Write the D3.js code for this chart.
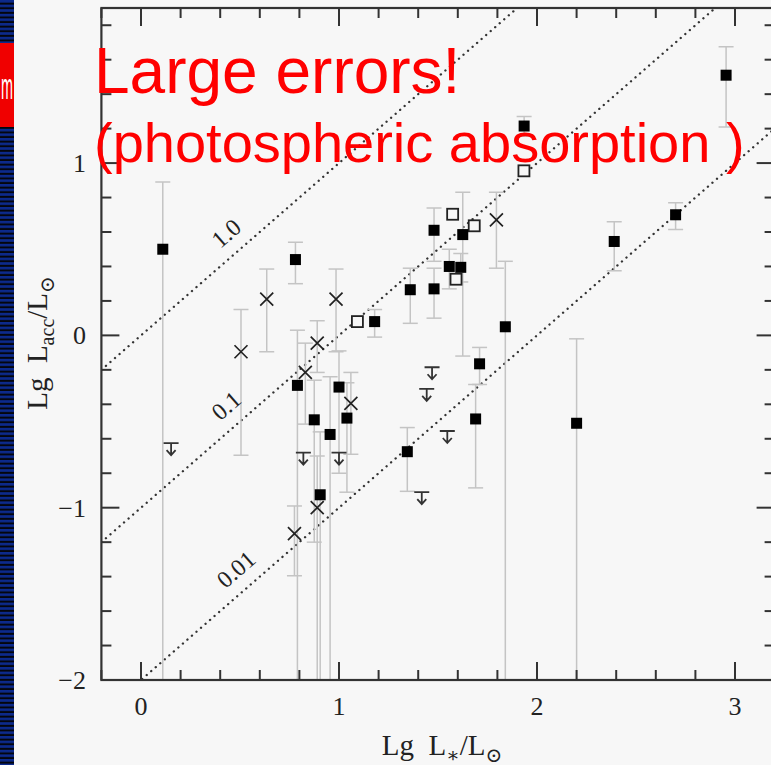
<!DOCTYPE html>
<html>
<head>
<meta charset="utf-8">
<script src="https://cdn.jsdelivr.net/npm/d3@7"></script>
<style>
  body { margin:0; background:#f7f7f7; }
  svg { display:block; }
  .tick-label { font-family:"Liberation Serif","DejaVu Serif",serif; font-size:26px; fill:#222; }
  .axis-title { font-family:"Liberation Serif","DejaVu Serif",serif; font-size:29px; fill:#222; }
  .ratio-label { font-family:"Liberation Serif","DejaVu Serif",serif; font-size:24px; fill:#222; }
  .note { font-family:"Liberation Sans",Arial,sans-serif; fill:#ff0000; }
</style>
</head>
<body>
<svg id="chart"></svg>
<script>
// filled squares: detections with error bars (-2.5 = bar runs off the bottom)
var filledX  = [0.11, 0.78, 1.18, 0.79, 1.00, 0.875, 0.955, 1.04, 0.905, 1.48, 1.625, 1.557, 1.615, 1.36, 1.48, 1.84, 1.71, 1.69, 1.345, 2.20, 2.39, 2.70, 2.955, 1.935];
var filledY  = [0.50, 0.44, 0.08, -0.29, -0.30, -0.49, -0.575, -0.48, -0.925, 0.61, 0.585, 0.40, 0.395, 0.265, 0.27, 0.05, -0.165, -0.485, -0.675, -0.51, 0.545, 0.70, 1.51, 1.215];
var filledHi = [0.89, 0.54, 0.15, 0.03, -0.09, -0.26, -0.24, -0.275, -0.56, 0.74, 0.83, 0.50, 0.475, 0.39, 0.39, 0.43, -0.07, -0.285, -0.535, -0.02, 0.66, 0.77, 1.675, 1.27];
var filledLo = [-2.5, 0.30, -0.01, -2.5, -0.80, -1.20, -2.5, -0.91, -2.5, 0.43, -0.12, 0.27, 0.31, 0.07, 0.10, -2.5, -0.285, -0.885, -0.905, -2.5, 0.375, 0.615, 1.21, 1.155];

// open squares
var openX = [1.093, 1.574, 1.683, 1.591, 1.934];
var openY = [0.08, 0.703, 0.636, 0.326, 0.955];

// crosses with error bars
var crossX  = [0.635, 0.985, 0.505, 0.89, 0.83, 1.06, 0.89, 0.775, 1.795];
var crossY  = [0.21, 0.21, -0.095, -0.045, -0.215, -0.395, -1.0, -1.15, 0.67];
var crossHi = [0.385, 0.385, 0.15, 0.085, -0.045, -0.215, -0.70, -0.99, 0.83];
var crossLo = [-0.095, -0.095, -0.695, -0.215, -0.515, -0.69, -2.5, -1.395, 0.39];

// upper limits
var limitX = [0.152, 0.82, 1.0, 1.47, 1.443, 1.547, 1.418];
var limitY = [-0.625, -0.68, -0.68, -0.185, -0.31, -0.555, -0.91];

// Lacc/L* ratio lines
var ratios = [1.0, 0.1, 0.01];
var ratioLabels = ["1.0", "0.1", "0.01"];
var ratioLabelAt = [0.5, 0.5, 0.55];

var xTicks = [0, 1, 2, 3];
var yTicks = [-2, -1, 0, 1];

var screen = {width:771, height:765};

var svg = d3.select("#chart")
    .attr("width", screen.width)
    .attr("height", screen.height);

var xScale = d3.scaleLinear().domain([-0.2, 3.2]).range([101.4, 774.6]);
var yScale = d3.scaleLinear().domain([-2, 1.9]).range([680, 8]);

var plot = {
    left:xScale(-0.2), right:xScale(3.2),
    top:yScale(1.9), bottom:yScale(-2)
};

svg.append("rect")
    .attr("width", screen.width).attr("height", screen.height)
    .attr("fill", "#f7f7f7");

// slide stripe on the left
var defs = svg.append("defs");
var pat = defs.append("pattern")
    .attr("id", "stripes").attr("patternUnits", "userSpaceOnUse")
    .attr("width", 14).attr("height", 4.6);
pat.append("rect").attr("width", 14).attr("height", 4.6).attr("fill", "#04060e");
pat.append("rect").attr("width", 14).attr("height", 2.6).attr("fill", "#0c2a8c");

defs.append("clipPath").attr("id", "plotclip")
    .append("rect")
    .attr("x", plot.left).attr("y", plot.top)
    .attr("width", plot.right - plot.left).attr("height", plot.bottom - plot.top);

svg.append("rect")
    .attr("x", 0).attr("y", 0).attr("width", 14).attr("height", screen.height)
    .attr("fill", "url(#stripes)");

svg.append("rect")
    .attr("x", 0).attr("y", 43).attr("width", 14).attr("height", 84)
    .attr("fill", "#f00000");

svg.append("text")
    .attr("x", 1).attr("y", 99)
    .attr("font-family", "Liberation Sans, Arial, sans-serif")
    .attr("font-size", 36)
    .attr("textLength", 12)
    .attr("lengthAdjust", "spacingAndGlyphs")
    .attr("fill", "#fff")
    .text("m");

var inner = svg.append("g").attr("clip-path", "url(#plotclip)");

// dotted ratio lines
ratios.forEach(function(r, i) {
    var off = Math.log10(r);
    var xs = [-0.2, 3.2];
    inner.append("line")
        .attr("x1", xScale(xs[0])).attr("y1", yScale(xs[0] + off))
        .attr("x2", xScale(xs[1])).attr("y2", yScale(xs[1] + off))
        .attr("stroke", "#333")
        .attr("stroke-width", 2.3)
        .attr("stroke-linecap", "round")
        .attr("stroke-dasharray", "0.1,5.9");

    var a = ratioLabelAt[i];
    var p1 = [xScale(a), yScale(a + off)];
    var p2 = [xScale(a + 1), yScale(a + 1 + off)];
    var ang = Math.atan2(p2[1] - p1[1], p2[0] - p1[0]);
    var cx = p1[0] + Math.sin(ang) * 21;
    var cy = p1[1] - Math.cos(ang) * 21;
    svg.append("text")
        .attr("class", "ratio-label")
        .attr("text-anchor", "middle")
        .attr("dominant-baseline", "central")
        .attr("transform", "translate(" + cx + "," + cy + ") rotate(" + (ang * 180 / Math.PI) + ")")
        .text(ratioLabels[i]);
});

// error bars
var drawErrors = function(xs, ys, his, los) {
    xs.forEach(function(x, i) {
        var g = inner.append("g")
            .attr("stroke", "#c4c4c4")
            .attr("stroke-width", 1.5);
        g.append("line")
            .attr("x1", xScale(x)).attr("x2", xScale(x))
            .attr("y1", yScale(his[i])).attr("y2", yScale(los[i]));
        [his[i], los[i]].forEach(function(v) {
            g.append("line")
                .attr("x1", xScale(x) - 7.5).attr("x2", xScale(x) + 7.5)
                .attr("y1", yScale(v)).attr("y2", yScale(v));
        });
    });
};
drawErrors(filledX, filledY, filledHi, filledLo);
drawErrors(crossX, crossY, crossHi, crossLo);

// upper limit arrows
limitX.forEach(function(x, i) {
    var px = xScale(x), py = yScale(limitY[i]);
    inner.append("path")
        .attr("d", "M" + (px - 7.5) + "," + py + "H" + (px + 7.5) +
                   "M" + px + "," + py + "V" + (py + 12) +
                   "M" + (px - 4.5) + "," + (py + 7) + "L" + px + "," + (py + 12) + "L" + (px + 4.5) + "," + (py + 7))
        .attr("fill", "none")
        .attr("stroke", "#333")
        .attr("stroke-width", 1.8);
});

// crosses
crossX.forEach(function(x, i) {
    var px = xScale(x), py = yScale(crossY[i]), s = 6.5;
    inner.append("path")
        .attr("d", "M" + (px - s) + "," + (py - s) + "L" + (px + s) + "," + (py + s) +
                   "M" + (px - s) + "," + (py + s) + "L" + (px + s) + "," + (py - s))
        .attr("stroke", "#222")
        .attr("stroke-width", 1.7);
});

// open squares
inner.selectAll(".open")
    .data(openX)
    .enter()
    .append("rect")
    .attr("class", "open")
    .attr("x", function(d) { return xScale(d) - 5.5; })
    .attr("y", function(d, i) { return yScale(openY[i]) - 5.5; })
    .attr("width", 11).attr("height", 11)
    .attr("fill", "#f7f7f7")
    .attr("stroke", "#222")
    .attr("stroke-width", 1.8);

// filled squares
inner.selectAll(".filled")
    .data(filledX)
    .enter()
    .append("rect")
    .attr("class", "filled")
    .attr("x", function(d) { return xScale(d) - 5.5; })
    .attr("y", function(d, i) { return yScale(filledY[i]) - 5.5; })
    .attr("width", 11).attr("height", 11)
    .attr("fill", "#000");

// frame and ticks on all four sides
var axes = svg.append("g").attr("stroke", "#333").attr("stroke-width", 2);
axes.append("rect")
    .attr("x", plot.left).attr("y", plot.top)
    .attr("width", plot.right - plot.left).attr("height", plot.bottom - plot.top)
    .attr("fill", "none")
    .attr("stroke-width", 2.2);

d3.range(-2, 33).map(function(k) { return k / 10; }).forEach(function(v) {
    if (Math.round(v * 10) % 2 !== 0) return;
    var len = Math.abs(v - Math.round(v)) < 1e-6 ? 18 : 10;
    var px = xScale(v);
    axes.append("line").attr("x1", px).attr("x2", px).attr("y1", plot.bottom).attr("y2", plot.bottom - len);
    axes.append("line").attr("x1", px).attr("x2", px).attr("y1", plot.top).attr("y2", plot.top + len);
});
d3.range(-20, 19, 2).map(function(k) { return k / 10; }).forEach(function(v) {
    var len = Math.abs(v - Math.round(v)) < 1e-6 ? 18 : 10;
    var py = yScale(v);
    axes.append("line").attr("y1", py).attr("y2", py).attr("x1", plot.left).attr("x2", plot.left + len);
    axes.append("line").attr("y1", py).attr("y2", py).attr("x1", plot.right).attr("x2", plot.right - len);
});

// tick labels
svg.selectAll(".xlab")
    .data(xTicks)
    .enter()
    .append("text")
    .attr("class", "tick-label")
    .attr("text-anchor", "middle")
    .attr("x", function(d) { return xScale(d); })
    .attr("y", 715)
    .text(function(d) { return d; });

svg.selectAll(".ylab")
    .data(yTicks)
    .enter()
    .append("text")
    .attr("class", "tick-label")
    .attr("text-anchor", "end")
    .attr("x", 86)
    .attr("y", function(d) { return yScale(d) + 9; })
    .text(function(d) { return d < 0 ? "\u2212" + Math.abs(d) : d; });

// axis titles
var xt = svg.append("text")
    .attr("class", "axis-title")
    .attr("text-anchor", "middle")
    .attr("x", 442).attr("y", 755);
xt.append("tspan").text("Lg\u2002L");
xt.append("tspan").attr("font-size", 20).attr("dy", 7).text("\u2217");
xt.append("tspan").attr("dy", -7).text("/L");
xt.append("tspan").attr("font-size", 20).attr("dy", 7).text("\u2299");

var yt = svg.append("text")
    .attr("class", "axis-title")
    .attr("text-anchor", "middle")
    .attr("transform", "translate(47,343) rotate(-90)");
yt.append("tspan").text("Lg\u2002L");
yt.append("tspan").attr("font-size", 20).attr("dy", 7).text("acc");
yt.append("tspan").attr("dy", -7).text("/L");
yt.append("tspan").attr("font-size", 20).attr("dy", 7).text("\u2299");

// red annotation
svg.append("text")
    .attr("class", "note")
    .attr("x", 94).attr("y", 93)
    .attr("font-size", 64)
    .text("Large errors!");
svg.append("text")
    .attr("class", "note")
    .attr("x", 94).attr("y", 162)
    .attr("font-size", 56)
    .attr("xml:space", "preserve")
    .text("(photospheric absorption )");
</script>
</body>
</html>
